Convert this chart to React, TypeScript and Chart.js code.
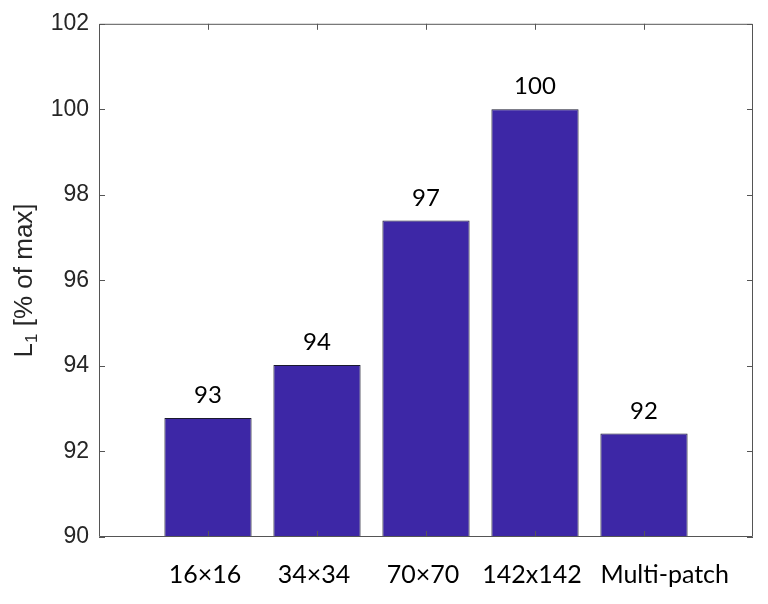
import React, { useEffect, useRef } from "react";
import { Chart, registerables } from "chart.js";

Chart.register(...registerables);

const categories = ["16×16", "34×34", "70×70", "142x142", "Multi-patch"];
const values = [92.78, 94.02, 97.4, 100, 92.42];
const valueLabels = ["93", "94", "97", "100", "92"];
const yMin = 90;
const yMax = 102;
const yStep = 2;

const BAR_COLOR = "#3d27a6";
const AXIS_COLOR = "#555555";
const TEXT_COLOR = "#262626";

const framePlugin = {
  id: "frame",
  afterDatasetsDraw(chart: any) {
    const { ctx, chartArea, scales } = chart;
    const { left, right, top, bottom } = chartArea;
    ctx.save();
    ctx.strokeStyle = AXIS_COLOR;
    ctx.lineWidth = 1;
    ctx.beginPath();
    ctx.rect(left + 0.5, top + 0.5, right - left - 1, bottom - top - 1);
    ctx.stroke();
    const tl = 6;
    ctx.beginPath();
    for (let v = yMin; v <= yMax; v += yStep) {
      const y = Math.round(scales.y.getPixelForValue(v)) + 0.5;
      ctx.moveTo(left, y);
      ctx.lineTo(left + tl, y);
      ctx.moveTo(right, y);
      ctx.lineTo(right - tl, y);
    }
    categories.forEach((_, i) => {
      const x = Math.round(scales.x.getPixelForValue(i + 1)) + 0.5;
      ctx.moveTo(x, bottom);
      ctx.lineTo(x, bottom - tl);
      ctx.moveTo(x, top);
      ctx.lineTo(x, top + tl);
    });
    ctx.stroke();

    const meta = chart.getDatasetMeta(0);

    // value labels
    ctx.fillStyle = "#000000";
    ctx.font = "24px Lato";
    ctx.textAlign = "center";
    ctx.textBaseline = "alphabetic";
    meta.data.forEach((bar: any, i: number) => {
      ctx.fillText(valueLabels[i], bar.x, bar.y - 15);
    });

    // category labels (last one starts at its bar's left edge)
    ctx.font = "25px Lato";
    ctx.textBaseline = "middle";
    meta.data.forEach((bar: any, i: number) => {
      const last = i === categories.length - 1;
      ctx.textAlign = last ? "left" : "center";
      const x = last ? bar.x - bar.width / 2 : bar.x - 3;
      ctx.fillText(categories[i], x, bottom + 38);
    });

    // y axis title: L_1 [% of max]
    const cy = (top + bottom) / 2;
    ctx.translate(32, cy);
    ctx.rotate(-Math.PI / 2);
    ctx.fillStyle = TEXT_COLOR;
    ctx.textAlign = "left";
    ctx.textBaseline = "alphabetic";
    const mainFont = "26px 'Liberation Sans'";
    const subFont = "17px 'Liberation Sans'";
    ctx.font = mainFont;
    const wL = ctx.measureText("L").width;
    const rest = " [% of max]";
    const wR = ctx.measureText(rest).width;
    ctx.font = subFont;
    const w1 = ctx.measureText("1").width;
    const total = wL + w1 + wR;
    let x = -total / 2;
    ctx.font = mainFont;
    ctx.fillText("L", x, 0);
    x += wL;
    ctx.font = subFont;
    ctx.fillText("1", x, 5);
    x += w1;
    ctx.font = mainFont;
    ctx.fillText(rest, x, 0);
    ctx.restore();
  },
};

export default function App() {
  const ref = useRef<HTMLCanvasElement | null>(null);
  useEffect(() => {
    if (!ref.current) return;
    const chart = new Chart(ref.current, {
      type: "bar",
      data: {
        datasets: [
          {
            data: values.map((v, i) => ({ x: i + 1, y: v })),
            backgroundColor: BAR_COLOR,
            borderColor: "#1a1a2e",
            borderWidth: 1,
            borderSkipped: false,
            barPercentage: 1,
            categoryPercentage: 0.8,
          },
        ],
      },
      options: {
        responsive: false,
        animation: false,
        layout: { padding: { top: 21, right: 15, bottom: 0, left: 0 } },
        plugins: { legend: { display: false }, tooltip: { enabled: false } },
        scales: {
          x: {
            type: "linear",
            offset: false,
            min: 0,
            max: categories.length + 1,
            grid: { display: false, drawTicks: false, offset: false },
            border: { display: false },
            afterFit: (s: any) => {
              s.height = 67;
              s.paddingLeft = 0;
              s.paddingRight = 0;
            },
            ticks: { display: false, stepSize: 1 },
          },
          y: {
            min: yMin,
            max: yMax,
            grid: { display: false, drawTicks: false },
            border: { display: false },
            afterFit: (s: any) => {
              s.width = 99;
            },
            ticks: {
              stepSize: yStep,
              padding: 10,
              color: TEXT_COLOR,
              font: { family: "'Liberation Sans'", size: 23 },
            },
          },
        },
      },
      plugins: [framePlugin],
    });
    return () => chart.destroy();
  }, []);
  return (
    <div style={{ position: "fixed", left: 0, top: 0, width: 768, height: 604, background: "#ffffff" }}>
      <canvas ref={ref} width={768} height={604} />
    </div>
  );
}
